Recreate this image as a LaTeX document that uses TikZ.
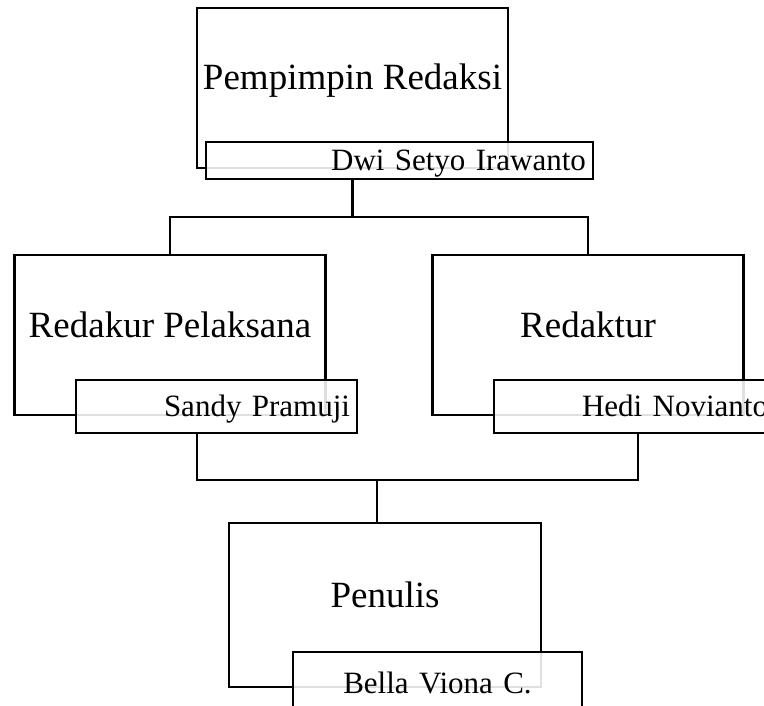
\documentclass[tikz,border=0pt]{standalone}
\usepackage{fontspec}
\setmainfont{Liberation Serif}
\usetikzlibrary{calc}

\tikzset{
  unitbox/.style={draw, line width=2.2pt, minimum width=311pt, minimum height=160pt,
    inner sep=0pt, text height=4pt, text depth=0pt, font=\fontsize{37}{44}\selectfont},
  namebox/.style={draw, fill=white, fill opacity=0.88, text opacity=1, line width=2.2pt,
    minimum height=53pt, inner xsep=7pt, inner ysep=0pt, align=right,
    text height=20pt, text depth=0pt, font=\fontsize{31}{37}\selectfont},
  link/.style={line width=2.2pt}
}

\begin{document}
\begin{tikzpicture}[x=1pt, y=-1pt]
            % frame
            \useasboundingbox (0,0) rectangle (764,706);
            \clip (0,0) rectangle (764,706);
            % coordinates
            \coordinate (topsplit) at (352.5,217);
            \coordinate (lowsplit) at (377,480);
            % units
            \node[unitbox] (pr) at (352.5,88) {Pempimpin Redaksi};
            \node[unitbox] (rp) at (170,335) {Redakur Pelaksana};
            \node[unitbox] (rd) at (588,335) {Redaktur};
            \node[unitbox, minimum width=312pt, minimum height=164pt] (pn) at (385,605) {Penulis};
            % names
            \node[namebox, minimum width=387pt, minimum height=37pt, text width=373pt] (prname) at (399.5,160.5) {Dwi Setyo Irawanto};
            \node[namebox, minimum width=281pt, text width=267pt] (rpname) at (216.5,406.5) {Sandy Pramuji};
            \node[namebox, minimum width=281pt, text width=267pt] (rdname) at (634.5,406.5) {Hedi Novianto};
            \node[namebox, minimum width=289pt, minimum height=62pt, text width=275pt, align=center] (pnname) at (437.5,683) {Bella Viona C.};
            % links
            \draw[link] (prname.south -| pr.south) -- (topsplit);
            \draw[link] (rp.north) |- (topsplit) -| (rd.north);
            \draw[link] ([xshift=-19.5pt]rpname.south) |- (lowsplit) -| ([xshift=3.5pt]rdname.south);
            \draw[link] (lowsplit) -- (lowsplit |- pn.north);
        \end{tikzpicture}
\end{document}
